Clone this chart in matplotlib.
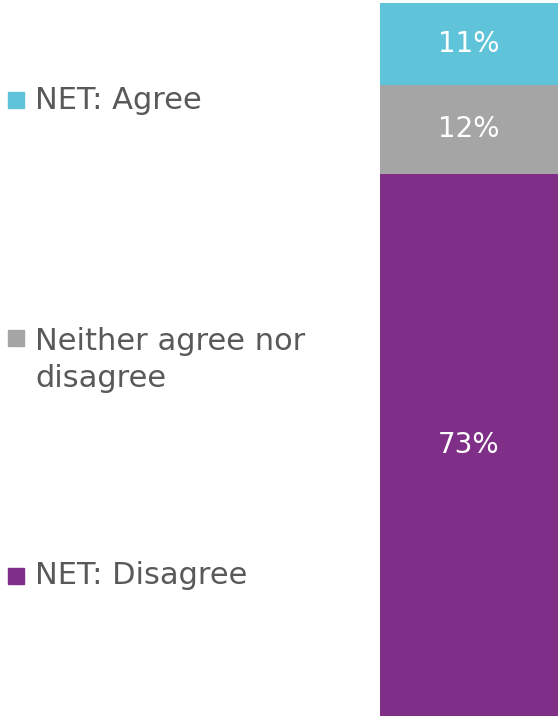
import matplotlib
matplotlib.use("Agg")
import matplotlib.pyplot as plt
from matplotlib.patches import Rectangle

# data (top to bottom as shown in legend)
categories = ["NET: Agree", "Neither agree nor\ndisagree", "NET: Disagree"]
values = [11, 12, 73]
colors = ["#5FC3D9", "#A5A5A5", "#7F2F87"]

plt.rcParams['font.family'] = ['DejaVu Sans']

fig = plt.figure(figsize=(5.59, 7.18), dpi=100)
ax = fig.add_axes([380 / 559, 2 / 718, 178 / 559, 713 / 718])

# stack from the bottom: disagree, neither, agree
bottom = 0
for cat, val, col in zip(categories[::-1], values[::-1], colors[::-1]):
    ax.bar(0, val, bottom=bottom, width=1.0, color=col, edgecolor="none")
    ax.text(0, bottom + val / 2, f"{val}%", ha="center", va="center",
            color="white", fontsize=20)
    bottom += val

ax.set_xlim(-0.5, 0.5)
ax.set_ylim(0, bottom)
ax.axis("off")

# legend drawn at left, one entry per category
square_y = [100, 338, 576]     # pixel row of each marker centre
baseline_y = [109, 350, 584]   # pixel row of the first text baseline
line_step = 37
for cat, col, sy, by in zip(categories, colors, square_y, baseline_y):
    fig.patches.append(Rectangle((8 / 559, 1 - (sy + 8) / 718), 16 / 559, 16 / 718,
                                 transform=fig.transFigure, color=col))
    for i, line in enumerate(cat.split("\n")):
        fig.text(35 / 559, 1 - (by + i * line_step) / 718, line, ha="left",
                 va="baseline", fontsize=22, color="#595959")

fig.savefig("out.png", dpi=100)
